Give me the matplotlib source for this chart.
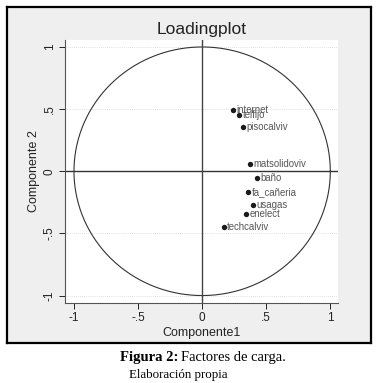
import matplotlib
matplotlib.use("Agg")
import matplotlib.pyplot as plt
import numpy as np

variables = ["internet", "telfijo", "pisocalviv", "matsolidoviv", "baño",
             "fa_cañeria", "usagas", "enelect", "techcalviv"]
comp1 = [0.237, 0.289, 0.315, 0.370, 0.427, 0.357, 0.396, 0.344, 0.167]
comp2 = [0.494, 0.449, 0.360, 0.056, -0.056, -0.169, -0.270, -0.340, -0.446]
ticks = [-1, -0.5, 0, 0.5, 1]
tick_labels = ["-1", "-.5", "0", ".5", "1"]

W, H = 379, 383
fig = plt.figure(figsize=(W / 100, H / 100), dpi=100)
fig.patch.set_facecolor("white")
plt.rcParams['font.family'] = ['Liberation Sans', 'DejaVu Sans']

# outer gray panel with black border
bg = fig.add_axes([7 / W, 1 - 343 / H, (371 - 7) / W, (343 - 7) / H], zorder=-5)
bg.set_facecolor("#efefef")
bg.set_xticks([])
bg.set_yticks([])
for s in bg.spines.values():
    s.set_color("black")
    s.set_linewidth(1.6)

ax = fig.add_axes([65 / W, 1 - 303 / H, (338 - 65) / W, (303 - 40) / H], zorder=1)
ax.set_facecolor("white")
ax.set_xlim(-1.07, 1.06)
ax.set_ylim(-1.06, 1.056)

for y in [-1, -0.5, 0.5, 1]:
    ax.axhline(y, color="#d8d8d8", lw=0.6, ls=(0, (1, 1.5)), zorder=1)

t = np.linspace(0, 2 * np.pi, 400)
ax.plot(np.cos(t), np.sin(t), color="#333333", lw=0.8, zorder=2)
ax.axhline(0, color="#333333", lw=1.0, zorder=2)
ax.axvline(0, color="#444444", lw=1.0, zorder=2)

ax.scatter(comp1, comp2, s=15, color="#1a1a1a", zorder=3, linewidths=0)
for x, y, lab in zip(comp1, comp2, variables):
    ax.annotate(lab, (x, y), xytext=(2.5, 0), textcoords="offset points",
                fontsize=6.9, color="#555555", va="center", ha="left", zorder=4)

ax.set_xticks(ticks)
ax.set_xticklabels(tick_labels)
ax.set_yticks(ticks)
ax.set_yticklabels(tick_labels, rotation=90, va="center")
ax.tick_params(axis="both", labelsize=8.5, colors="#222222", length=4, width=0.7,
               direction="out", pad=2.5)
for s in ["top", "right"]:
    ax.spines[s].set_visible(False)
for s in ["left", "bottom"]:
    ax.spines[s].set_color("#555555")
    ax.spines[s].set_linewidth(0.8)

ax.set_xlabel("Componente1", fontsize=9, color="#222222", labelpad=2)
ax.set_ylabel("Componente 2", fontsize=9, color="#222222", labelpad=3)
ax.set_title("Loadingplot", fontsize=12.5, color="#222222", pad=4)

fig.text(178 / W, 1 - 357 / H, "Figura 2:", ha="right", va="center",
         fontsize=10.5, family="Liberation Serif", weight="bold")
fig.text(181 / W, 1 - 357 / H, "Factores de carga.", ha="left", va="center",
         fontsize=10.5, family="Liberation Serif")
fig.text(178 / W, 1 - 375 / H, "Elaboración propia", ha="center", va="center",
         fontsize=9.3, family="Liberation Serif")

fig.savefig("out.png", dpi=100)
